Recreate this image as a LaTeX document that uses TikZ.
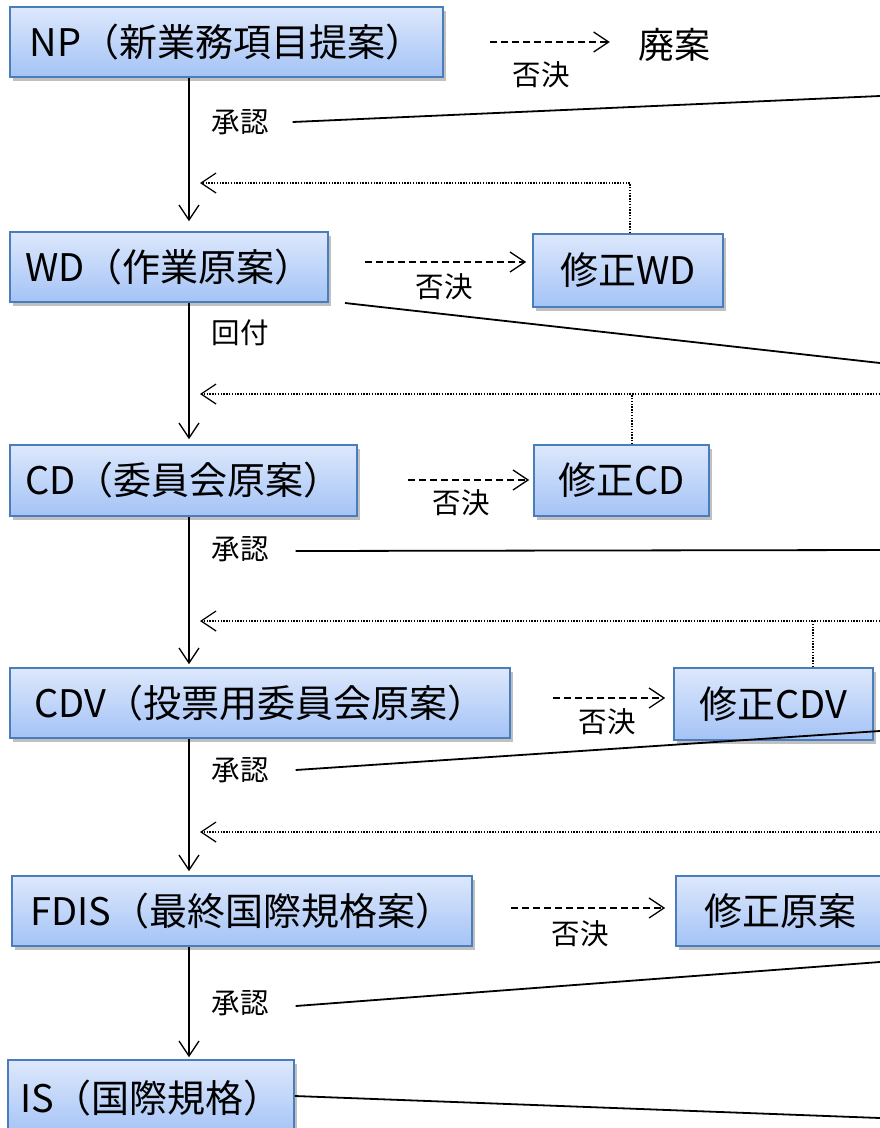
\documentclass[tikz,border=0pt]{standalone}
\usepackage{fontspec}
\setmainfont{Noto Sans CJK JP}
\usetikzlibrary{arrows.meta,shadows,calc}
\definecolor{boxtop}{HTML}{DDE8FC}
\definecolor{boxbot}{HTML}{A4C3F6}
\definecolor{boxline}{HTML}{4A7EBB}
\tikzset{
  box/.style={draw=boxline, line width=1.6pt, top color=boxtop, bottom color=boxbot,
    inner sep=0pt, font=\fontsize{38}{44}\selectfont,
    drop shadow={shadow xshift=2.5pt, shadow yshift=-3.5pt, opacity=0.35, fill=black!70}},
  lbl/.style={inner sep=0pt, font=\fontsize{28.5}{32}\selectfont},
  tip/.style={-{Straight Barb[length=15pt,width=20pt]}},
  mainarr/.style={tip, line width=1.3pt},
  dasharr/.style={tip, line width=1.3pt, dash pattern=on 7pt off 4pt},
  fbarr/.style={tip, line width=1.2pt, dash pattern=on 1.4pt off 1.4pt},
  fbline/.style={line width=1.2pt, dash pattern=on 1.4pt off 1.4pt},
  edge/.style={line width=1.8pt},
}
\begin{document}
\begin{tikzpicture}[x=1pt,y=-1pt]
\useasboundingbox (0,0) rectangle (880,1128);
\fill[white] (0,0) rectangle (880,1128);
\clip (0,0) rectangle (880,1128);

% boxes
\node[box, minimum width=433pt, minimum height=70pt] (np) at (226.5,42) {NP（新業務項目提案）};
\node[box, minimum width=318pt, minimum height=70pt] (wd) at (169,267) {WD（作業原案）};
\node[box, minimum width=190pt, minimum height=73pt] (rwd) at (628,270.5) {修正WD};
\node[box, minimum width=347pt, minimum height=71pt] (cd) at (183.5,480.5) {CD（委員会原案）};
\node[box, minimum width=175pt, minimum height=71pt] (rcd) at (621.5,480.5) {修正CD};
\node[box, minimum width=500pt, minimum height=70pt] (cdv) at (260,703) {CDV（投票用委員会原案）};
\node[box, minimum width=199pt, minimum height=72pt] (rcdv) at (773.5,704) {修正CDV};
\node[box, minimum width=460pt, minimum height=70pt] (fdis) at (242,911) {FDIS（最終国際規格案）};
\node[box, minimum width=208pt, minimum height=70pt] (rfd) at (780,911) {修正原案};
\node[box, minimum width=286pt, minimum height=76pt] (is) at (151,1098) {\raisebox{3pt}{IS（国際規格）}};

\node[inner sep=0pt, font=\fontsize{36}{40}\selectfont] (haian) at (674,45) {廃案};

% labels
\node[lbl] (ok1) at (240,122) {承認};
\node[lbl] (kaifu) at (240,333) {回付};
\node[lbl] (ok3) at (240,549) {承認};
\node[lbl] (ok4) at (240,770) {承認};
\node[lbl] (ok5) at (240,1003) {承認};
\node[lbl] (ng1) at (541,75) {否決};
\node[lbl] (ng2) at (444,287) {否決};
\node[lbl] (ng3) at (461,503) {否決};
\node[lbl] (ng4) at (607,722) {否決};
\node[lbl] (ng5) at (580,934) {否決};

% coordinates
\coordinate (ax) at (189,0);
\coordinate (fbx) at (200,0);
\coordinate (e1) at (880,96);
\coordinate (e2) at (880,363);
\coordinate (e3) at (880,550);
\coordinate (e4) at (880,731);
\coordinate (e5) at (880,962);
\coordinate (e6) at (880,1118);
\coordinate (f2) at (880,394);
\coordinate (f3) at (880,621);
\coordinate (f4) at (880,832);
\coordinate (d1) at (490,42);
\coordinate (d2) at (365,262);
\coordinate (d3) at (408,480);
\coordinate (d4) at (553,698);
\coordinate (d5) at (511,908);
\coordinate (w1) at (345,303);

% main vertical arrows
\draw[mainarr, shorten >=10pt] (np.south -| ax) -- (wd.north -| ax);
\draw[mainarr, shorten >=5pt] (wd.south -| ax) -- (cd.north -| ax);
\draw[mainarr, shorten >=3pt] (cd.south -| ax) -- (cdv.north -| ax);
\draw[mainarr, shorten >=4pt] (cdv.south -| ax) -- (fdis.north -| ax);
\draw[mainarr, shorten >=2pt] (fdis.south -| ax) -- (is.north -| ax);

% rejection dashed arrows
\draw[dasharr] (d1) -- ($(d1 -| haian.west)+(-28,0)$);
\draw[dasharr, shorten >=6pt] (d2) -- (d2 -| rwd.west);
\draw[dasharr, shorten >=4pt] (d3) -- (d3 -| rcd.west);
\draw[dasharr, shorten >=8pt] (d4) -- (d4 -| rcdv.west);
\draw[dasharr, shorten >=10pt] (d5) -- (d5 -| rfd.west);

% feedback dotted
\draw[fbarr] ([xshift=2pt]rwd.north) -- ([xshift=2pt]rwd.north |- 0,183) -- (fbx |- 0,183);
\draw[fbarr] (f2) -- (fbx |- f2);
\draw[fbline] ([xshift=10.5pt]rcd.north) -- ([xshift=10.5pt]rcd.north |- f2);
\draw[fbarr] (f3) -- (fbx |- f3);
\draw[fbline] ([xshift=39.5pt]rcdv.north) -- ([xshift=39.5pt]rcdv.north |- f3);
\draw[fbarr] (f4) -- (fbx |- f4);

% lines to the right edge
\draw[edge] ([xshift=24pt]ok1.east) -- (e1);
\draw[edge] (w1) -- (e2);
\draw[edge] ([xshift=27pt,yshift=-2pt]ok3.east) -- (e3);
\draw[edge] ([xshift=27pt]ok4.east) -- (e4);
\draw[edge] ([xshift=27pt,yshift=-3pt]ok5.east) -- (e5);
\draw[edge] (is.east |- 0,1096) -- (e6);
\end{tikzpicture}
\end{document}
